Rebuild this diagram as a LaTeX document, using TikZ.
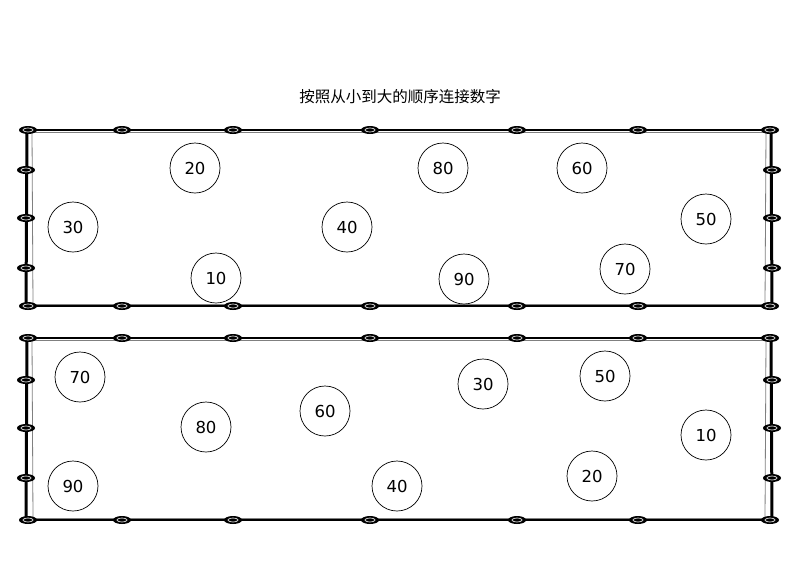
\documentclass[tikz,border=0pt]{standalone}
\usepackage{fontspec}
\setmainfont{DejaVu Sans}
\newfontfamily\cjk{Noto Sans CJK SC}
\begin{document}
\begin{tikzpicture}[x=1pt,y=-1pt,
  num/.style={circle,draw,line width=0.7pt,minimum size=50pt,inner sep=0pt,font=\fontsize{16.5}{16.5}\selectfont},
  rail/.style={line width=2pt},
  railthin/.style={line width=0.8pt,gray}]
\useasboundingbox (0,0) rectangle (800,566);
\node[font=\cjk\fontsize{15.5}{15.5}\selectfont] (title) at (400,97) {按照从小到大的顺序连接数字};
\newcommand{\post}[2]{\fill[black] (#1,#2) ellipse (9pt and 4pt);
  \draw[gray!50,line width=0.8pt] (#1,#2) ellipse (5pt and 2pt);}
\newcommand{\fence}[4]{% top bottom and three side ys
  \draw[rail] (28,#1) -- (770,#1); \draw[railthin] (28,#1+2) -- (770,#1+2);
  \draw[rail] (28,#2) -- (770,#2); \draw[railthin] (28,#2-2) -- (770,#2-2);
  \draw[line width=3pt] (27,#1) -- (26,#2); \draw[railthin] (32,#1) -- (33,#2);
  \draw[line width=3pt] (771,#1) -- (772,#2); \draw[railthin] (766,#1) -- (765,#2);
  \foreach \x in {28,122,233,370,517,638,770} {\post{\x}{#1}\post{\x}{#2}}
  \foreach \y in {#3} {\post{26}{\y}\post{772}{\y}}}
\fence{130}{306}{170,218,268}{}
\fence{338}{520}{380,428,478}{}
\node[num] (a20) at (195,168) {20};
\node[num] (a80) at (443,168) {80};
\node[num] (a60) at (582,168) {60};
\node[num] (a30) at (73,227) {30};
\node[num] (a40) at (347,227) {40};
\node[num] (a50) at (706,219) {50};
\node[num] (a10) at (216,278) {10};
\node[num] (a90) at (464,279) {90};
\node[num] (a70) at (625,269) {70};
\node[num] (b70) at (80,377) {70};
\node[num] (b30) at (483,384) {30};
\node[num] (b50) at (605,376) {50};
\node[num] (b60) at (325,411) {60};
\node[num] (b80) at (206,427) {80};
\node[num] (b10) at (706,435) {10};
\node[num] (b90) at (73,486) {90};
\node[num] (b40) at (397,486) {40};
\node[num] (b20) at (592,476) {20};
\end{tikzpicture}
\end{document}
